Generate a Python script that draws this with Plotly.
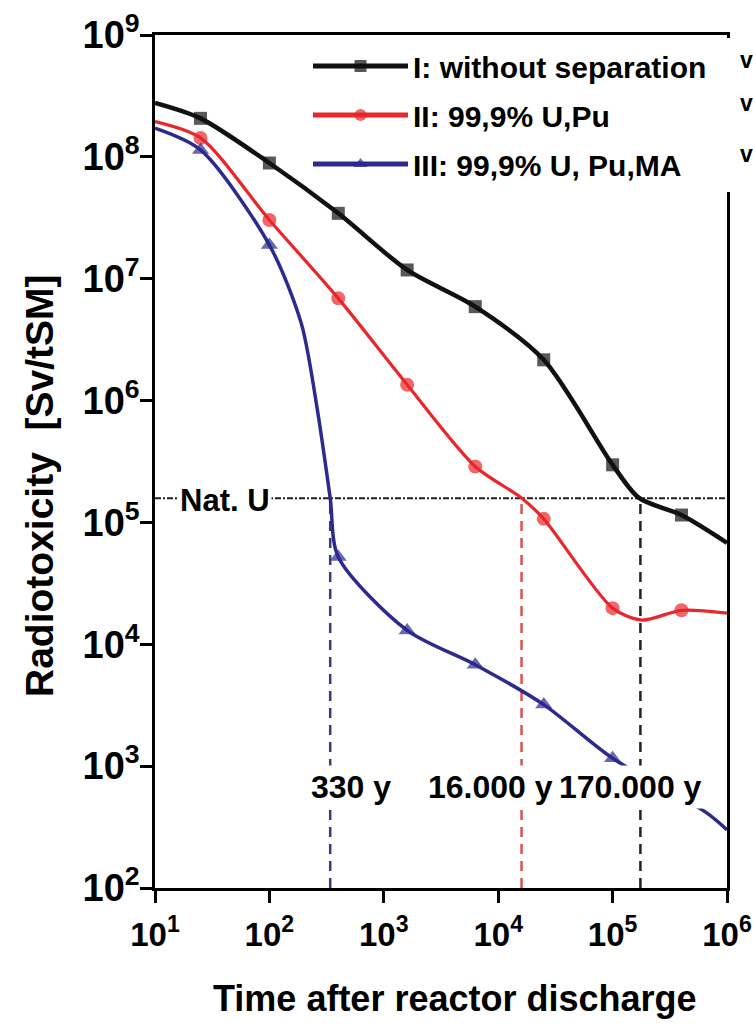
import plotly.graph_objects as go

# ---------------- data ----------------
t_I = [10, 25, 100, 400, 1600, 6300, 25000, 100000, 170000, 400000, 1000000]
v_I = [2.77e8, 2.07e8, 8.9e7, 3.44e7, 1.18e7, 5.9e6, 2.16e6, 2.97e5, 1.59e5, 1.15e5, 6.8e4]
mk_I = [0, 1, 1, 1, 1, 1, 1, 1, 0, 1, 0]

t_II = [10, 25, 100, 400, 1600, 6300, 16000, 25000, 100000, 180000, 400000, 1000000]
v_II = [1.95e8, 1.43e8, 3.03e7, 6.9e6, 1.35e6, 2.88e5, 1.59e5, 1.07e5, 1.98e4, 1.58e4, 1.9e4, 1.8e4]
mk_II = [0, 1, 1, 1, 1, 1, 0, 1, 1, 0, 1, 0]

t_III = [10, 25, 100, 190, 260, 340, 400, 1600, 6300, 25000, 100000, 660000, 1000000]
v_III = [1.72e8, 1.14e8, 1.89e7, 4.3e6, 8.9e5, 1.59e5, 5.2e4, 1.3e4, 6.8e3, 3.2e3, 1.16e3, 4.15e2, 3.0e2]
mk_III = [0, 1, 1, 0, 0, 0, 1, 1, 1, 1, 1, 0, 0]

series_names = ["I: without separation", "II: 99,9% U,Pu", "III: 99,9% U, Pu,MA"]
nat_u = 1.58e5
nat_u_label = "Nat. U"
cross_t = [340, 16000, 175000]
cross_labels = ["330 y", "16.000 y", "170.000 y"]
x_title = "Time after reactor discharge"
y_title = "Radiotoxicity  [Sv/tSM]"
x_tick_exp = [1, 2, 3, 4, 5, 6]
y_tick_exp = [2, 3, 4, 5, 6, 7, 8, 9]

# ---------------- layout constants ----------------
W, H = 753, 1028
L, R, T, B = 155, 26, 35, 140
PW, PH = W - L - R, H - T - B

def px_x(px):
    return (px - L) / PW

def px_y(py):
    return (H - B - py) / PH

FONT = "Liberation Sans, Arial, Helvetica, sans-serif"

BLACK = "#111111"
RED = "#e8262b"
BLUE = "#2b2a8f"

fig = go.Figure()

def add_series(t, v, mk, name, color, symbol, lw, ms):
    sizes = [ms if m else 0 for m in mk]
    fig.add_trace(go.Scatter(
        x=t, y=v, name=name, mode="lines+markers",
        line=dict(color=color, width=lw, shape="spline", smoothing=0.8),
        marker=dict(symbol=symbol, size=sizes, color=color, line=dict(width=0)),
        legendgroup=name,
    ))

# reference lines (drawn first so curves lie on top)
fig.add_trace(go.Scatter(x=[10, 1e6], y=[nat_u, nat_u], mode="lines",
                         line=dict(color="#222222", width=2, dash="6px,2px,2px,2px"),
                         showlegend=False, hoverinfo="skip"))
cross_colors = ["#3b3b7d", "#d9534f", "#222222"]
for ct, cc in zip(cross_t, cross_colors):
    fig.add_trace(go.Scatter(x=[ct, ct], y=[100, nat_u], mode="lines",
                             line=dict(color=cc, width=2.5, dash="10px,7px"),
                             showlegend=False, hoverinfo="skip"))

add_series(t_I, v_I, mk_I, series_names[0], BLACK, "square", 4.5, 13)
add_series(t_II, v_II, mk_II, series_names[1], RED, "circle", 3.2, 14)
add_series(t_III, v_III, mk_III, series_names[2], BLUE, "triangle-up", 3.5, 15)

annotations = []
annotations.append(dict(text=nat_u_label, x=px_x(225), y=px_y(500), xref="paper", yref="paper",
                        showarrow=False, xanchor="center", yanchor="middle",
                        font=dict(family=FONT, size=31, color="black", weight="bold"),
                        bgcolor="white", borderpad=1))
for lab, cx in zip(cross_labels, [351, 490, 630]):
    annotations.append(dict(text=lab, x=px_x(cx), y=px_y(787), xref="paper", yref="paper",
                            showarrow=False, xanchor="center", yanchor="middle",
                            font=dict(family=FONT, size=32, color="black", weight="bold"),
                            bgcolor="white", borderpad=3))
annotations.append(dict(text=x_title, x=px_x(455), y=px_y(998), xref="paper", yref="paper",
                        showarrow=False, xanchor="center", yanchor="middle",
                        font=dict(family=FONT, size=36, color="black", weight="bold")))
annotations.append(dict(text=y_title, x=px_x(39), y=px_y(486), xref="paper", yref="paper",
                        showarrow=False, xanchor="center", yanchor="middle", textangle=-90,
                        font=dict(family=FONT, size=39, color="black", weight="bold")))
for vy in [60, 103, 154]:
    annotations.append(dict(text="v", x=px_x(738), y=px_y(vy), xref="paper", yref="paper",
                            showarrow=False, xanchor="left", yanchor="middle",
                            font=dict(family=FONT, size=23, color="black", weight="bold")))

axis_common = dict(type="log", showline=True, linewidth=2.5, linecolor="black", mirror=True,
                   ticks="outside", ticklen=12, tickwidth=2.5, tickcolor="black",
                   showgrid=False, zeroline=False, automargin=False)

# white patch hiding the right frame behind the legend box (as in the reference)
shapes = [dict(type="rect", xref="paper", yref="paper",
               x0=px_x(719), x1=px_x(736), y0=px_y(192), y1=px_y(38),
               fillcolor="white", line=dict(width=0), layer="above")]

fig.update_layout(
    template="none",
    width=W, height=H,
    margin=dict(l=L, r=R, t=T, b=B, autoexpand=False),
    paper_bgcolor="white", plot_bgcolor="white",
    xaxis=dict(range=[1, 6], tickmode="array",
               tickvals=[10 ** e for e in x_tick_exp],
               ticktext=["10<sup>%d</sup>" % e for e in x_tick_exp],
               tickfont=dict(family=FONT, size=33, color="black", weight="bold"),
               ticklabelstandoff=4, **axis_common),
    yaxis=dict(range=[2, 9], tickmode="array",
               tickvals=[10 ** e for e in y_tick_exp],
               ticktext=["10<sup>%d</sup>" % e for e in y_tick_exp],
               tickfont=dict(family=FONT, size=38, color="black", weight="bold"),
               ticklabelstandoff=-7, **axis_common),
    legend=dict(x=px_x(308), y=px_y(40), xanchor="left", yanchor="top",
                bgcolor="rgba(255,255,255,0)", borderwidth=0, itemwidth=95, itemsizing="constant",
                font=dict(family=FONT, size=30, color="black", weight="bold"),
                tracegroupgap=7, traceorder="grouped"),
    annotations=annotations,
    shapes=shapes,
    showlegend=True,
)

fig.write_html("out.html", config={"displayModeBar": False},
               post_script="document.body.style.margin='0px';")
